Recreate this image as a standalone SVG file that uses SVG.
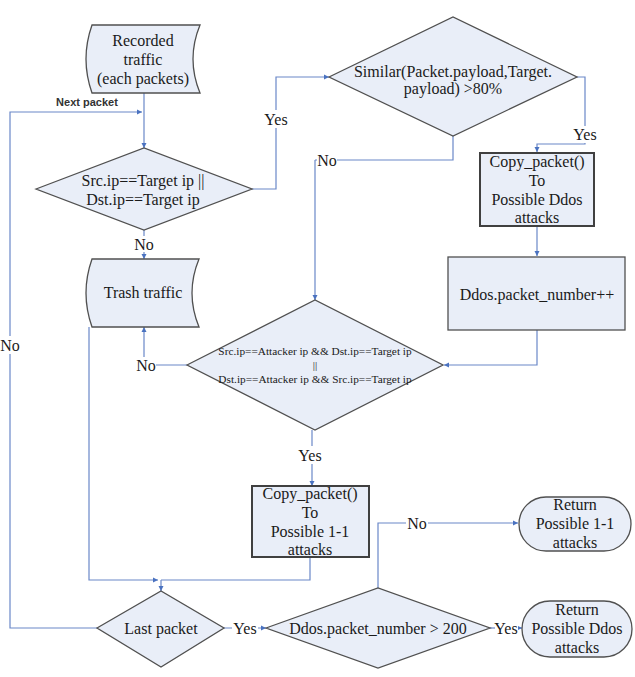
<svg xmlns="http://www.w3.org/2000/svg" width="635" height="677" viewBox="0 0 635 677">
<defs>
<marker id="arr" markerUnits="userSpaceOnUse" markerWidth="6" markerHeight="6" refX="5" refY="3" orient="auto">
<path d="M0,0.5 L5,3 L0,5.5 Z" fill="#4a72c0"/>
</marker>
<style>
.n{fill:#e9eef8;stroke:#505050;stroke-width:1.3}
.b{fill:#e9eef8;stroke:#404040;stroke-width:2}
.t{font-family:"Liberation Serif","Times New Roman",serif;font-size:16px;fill:#1a1a1a;text-anchor:middle;dominant-baseline:central}
.s{font-size:11.3px}
.c{fill:none;stroke:#6a88c8;stroke-width:1.2}
.a{marker-end:url(#arr)}
.lb{fill:#ffffff}
.np{font-family:"Liberation Sans",Arial,sans-serif;font-size:11px;font-weight:bold;fill:#333;text-anchor:middle;dominant-baseline:central}
</style>
</defs>
<rect width="635" height="677" fill="#ffffff"/>

<g id="connectors">
<path class="c a" d="M144,93 V148"/>
<path class="c a" d="M97,628 H10 V112 H142"/>
<path class="c a" d="M252,189 H276 V77 H329"/>
<path class="c a" d="M144,230 V259"/>
<path class="c a" d="M577,77 H585 V144 H537 V152"/>
<path class="c" d="M453,136 V160 H315"/>
<path class="c a" d="M315,160 V300"/>
<path class="c a" d="M537,226 V256"/>
<path class="c a" d="M537,330 V365 H444"/>
<path class="c a" d="M187,365 H144 V327"/>
<path class="c a" d="M312,430 V486"/>
<path class="c" d="M310,557 V580 H161"/>
<path class="c a" d="M161,580 V591"/>
<path class="c a" d="M89,327 V580 H158"/>
<path class="c a" d="M224,628 H266"/>
<path class="c a" d="M378,588 V523 H518"/>
<path class="c a" d="M490,628 H522"/>
<rect class="lb" x="48" y="94" width="78" height="13"/>
<text class="np" x="87" y="102">Next packet</text>
<rect class="lb" x="262" y="110" width="28" height="18"/>
<text class="t" x="276" y="119">Yes</text>
<rect class="lb" x="134" y="236" width="20" height="16"/>
<text class="t" x="144" y="244">No</text>
<rect class="lb" x="572" y="126" width="26" height="17"/>
<text class="t" x="585" y="134">Yes</text>
<rect class="lb" x="317" y="152" width="20" height="16"/>
<text class="t" x="327" y="160">No</text>
<rect class="lb" x="136" y="357" width="20" height="16"/>
<text class="t" x="146" y="365">No</text>
<rect class="lb" x="297" y="446" width="27" height="18"/>
<text class="t" x="310" y="455">Yes</text>
<rect class="lb" x="0" y="336" width="21" height="18"/>
<text class="t" x="10" y="345">No</text>
<rect class="lb" x="232" y="620" width="26" height="17"/>
<text class="t" x="245" y="628">Yes</text>
<rect class="lb" x="406" y="515" width="22" height="16"/>
<text class="t" x="417" y="523">No</text>
<rect class="lb" x="495" y="620" width="23" height="17"/>
<text class="t" x="506" y="628">Yes</text>
</g>

<g id="recorded">
<path class="n" d="M92,25 H200 Q186,59 200,93 H92 Q80,59 92,25 Z"/>
<text class="t" x="143" y="40">Recorded</text>
<text class="t" x="143" y="59">traffic</text>
<text class="t" x="143" y="78">(each packets)</text>
</g>

<g id="d1">
<path class="n" d="M36,189 L144,148 L252,189 L144,230 Z"/>
<text class="t" x="143" y="180">Src.ip==Target ip ||</text>
<text class="t" x="143" y="199">Dst.ip==Target ip</text>
</g>

<g id="similar">
<path class="n" d="M329,77 L453,17 L577,77 L453,136 Z"/>
<text class="t" x="453" y="71">Similar(Packet.payload,Target.</text>
<text class="t" x="453" y="88">payload) &gt;80%</text>
</g>

<g id="copyddos">
<rect class="b" x="480" y="153" width="114" height="73"/>
<text class="t" x="537" y="161">Copy_packet()</text>
<text class="t" x="537" y="180">To</text>
<text class="t" x="537" y="199">Possible Ddos</text>
<text class="t" x="537" y="217">attacks</text>
</g>

<g id="ddosinc">
<rect class="n" x="448" y="257" width="177" height="73"/>
<text class="t" x="537" y="294">Ddos.packet_number++</text>
</g>

<g id="trash">
<path class="n" d="M92,259 H199 Q185,293 199,327 H92 Q80,293 92,259 Z"/>
<text class="t" x="143" y="292">Trash traffic</text>
</g>

<g id="d2">
<path class="n" d="M187,365 L315,300 L443,365 L315,430 Z"/>
<text class="t s" x="315" y="351">Src.ip==Attacker ip &amp;&amp; Dst.ip==Target ip</text>
<text class="t s" x="315" y="365">||</text>
<text class="t s" x="315" y="379">Dst.ip==Attacker ip &amp;&amp; Src.ip==Target ip</text>
</g>

<g id="copy11">
<rect class="b" x="252" y="486" width="117" height="71"/>
<text class="t" x="310" y="493">Copy_packet()</text>
<text class="t" x="310" y="512">To</text>
<text class="t" x="310" y="531">Possible 1-1</text>
<text class="t" x="310" y="549">attacks</text>
</g>

<g id="lastpacket">
<path class="n" d="M97,628 L161,591 L224,628 L161,667 Z"/>
<text class="t" x="161" y="628">Last packet</text>
</g>

<g id="d3">
<path class="n" d="M266,628 L378,588 L490,628 L378,668 Z"/>
<text class="t" x="378" y="628">Ddos.packet_number &gt; 200</text>
</g>

<g id="ret11">
<rect class="n" x="519" y="497" width="112" height="54" rx="27" ry="27"/>
<text class="t" x="575" y="504">Return</text>
<text class="t" x="575" y="523">Possible 1-1</text>
<text class="t" x="575" y="542">attacks</text>
</g>

<g id="retddos">
<rect class="n" x="522" y="601" width="110" height="56" rx="28" ry="28"/>
<text class="t" x="577" y="609">Return</text>
<text class="t" x="577" y="628">Possible Ddos</text>
<text class="t" x="577" y="647">attacks</text>
</g>
</svg>
